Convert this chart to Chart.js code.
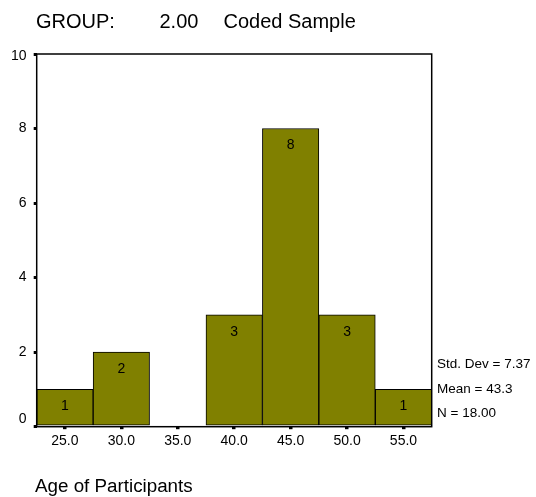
<!DOCTYPE html>
<html>
<head>
<meta charset="utf-8">
<script src="https://cdn.jsdelivr.net/npm/chart.js@4/dist/chart.umd.min.js"></script>
<style>
  html, body { margin: 0; padding: 0; background: #fff; }
  #wrap { width: 536px; height: 497px; }
</style>
</head>
<body>
<div id="wrap"><canvas id="hist" width="536" height="497"></canvas></div>
<script>
const ageBins = ["25.0", "30.0", "35.0", "40.0", "45.0", "50.0", "55.0"];
const counts = [1, 2, 0, 3, 8, 3, 1];
const yTicks = [0, 2, 4, 6, 8, 10];
const statLines = ["Std. Dev = 7.37", "Mean = 43.3", "N = 18.00"];
const titleParts = ["GROUP:", "2.00", "Coded Sample"];
const xTitle = "Age of Participants";

const FONT = '"Liberation Sans", Arial, sans-serif';

// box, y labels, bar counts and the text around the plot
const spssDecor = {
    id: "spssDecor",
    afterDatasetsDraw(chart) {
        const ctx = chart.ctx;
        const area = chart.chartArea;
        const y = chart.scales.y;
        ctx.save();

        ctx.strokeStyle = "#000";
        ctx.lineWidth = 1.5;
        ctx.strokeRect(area.left, area.top, area.right - area.left, area.bottom - area.top);

        // y tick labels, kept inside the axis range like SPSS does
        ctx.fillStyle = "#000";
        ctx.font = "14px " + FONT;
        ctx.textAlign = "right";
        ctx.textBaseline = "middle";
        yTicks.forEach((v) => {
            let py = y.getPixelForValue(v);
            py = Math.min(Math.max(py, area.top + 2.5), area.bottom - 7.5);
            ctx.fillText(String(v), 26.5, py);
        });

        // counts inside the bars
        ctx.textAlign = "center";
        const meta = chart.getDatasetMeta(0);
        meta.data.forEach((bar, i) => {
            if (counts[i] > 0) ctx.fillText(String(counts[i]), bar.x, bar.y + 17);
        });

        // stats block
        ctx.textAlign = "left";
        ctx.font = "13.5px " + FONT;
        [364, 389, 413].forEach((py, i) => ctx.fillText(statLines[i], 437, py));

        // title
        ctx.font = "20px " + FONT;
        [36, 159.5, 223.5].forEach((px, i) => ctx.fillText(titleParts[i], px, 22));

        // axis title
        ctx.font = "18.8px " + FONT;
        ctx.fillText(xTitle, 35, 487);

        ctx.restore();
    }
};

new Chart(document.getElementById("hist").getContext("2d"), {
    type: "bar",
    data: {
        labels: ageBins,
        datasets: [{
            data: counts,
            backgroundColor: "#808000",
            borderColor: "#000",
            borderWidth: 1,
            borderSkipped: false,
            barPercentage: 1,
            categoryPercentage: 1
        }]
    },
    options: {
        responsive: false,
        animation: false,
        devicePixelRatio: 1,
        layout: { padding: { top: 54, right: 104.3, left: 0, bottom: 0 } },
        plugins: {
            legend: { display: false },
            title: { display: false },
            tooltip: { enabled: false }
        },
        scales: {
            x: {
                afterFit: (s) => { s.height = 70.3; },
                grid: {
                    offset: false,
                    drawOnChartArea: false,
                    color: "#000",
                    lineWidth: 3.5,
                    tickLength: 2.5
                },
                border: { display: false },
                ticks: {
                    color: "#000",
                    padding: 4,
                    font: { family: FONT, size: 14 }
                }
            },
            y: {
                min: 0,
                max: 10,
                afterFit: (s) => { s.width = 36.7; },
                afterBuildTicks: (s) => { s.ticks = yTicks.map((v) => ({ value: v })); },
                grid: {
                    drawOnChartArea: false,
                    color: "#000",
                    lineWidth: 3,
                    tickLength: 3
                },
                border: { display: false },
                ticks: { display: false }
            }
        }
    },
    plugins: [spssDecor]
});
</script>
</body>
</html>
